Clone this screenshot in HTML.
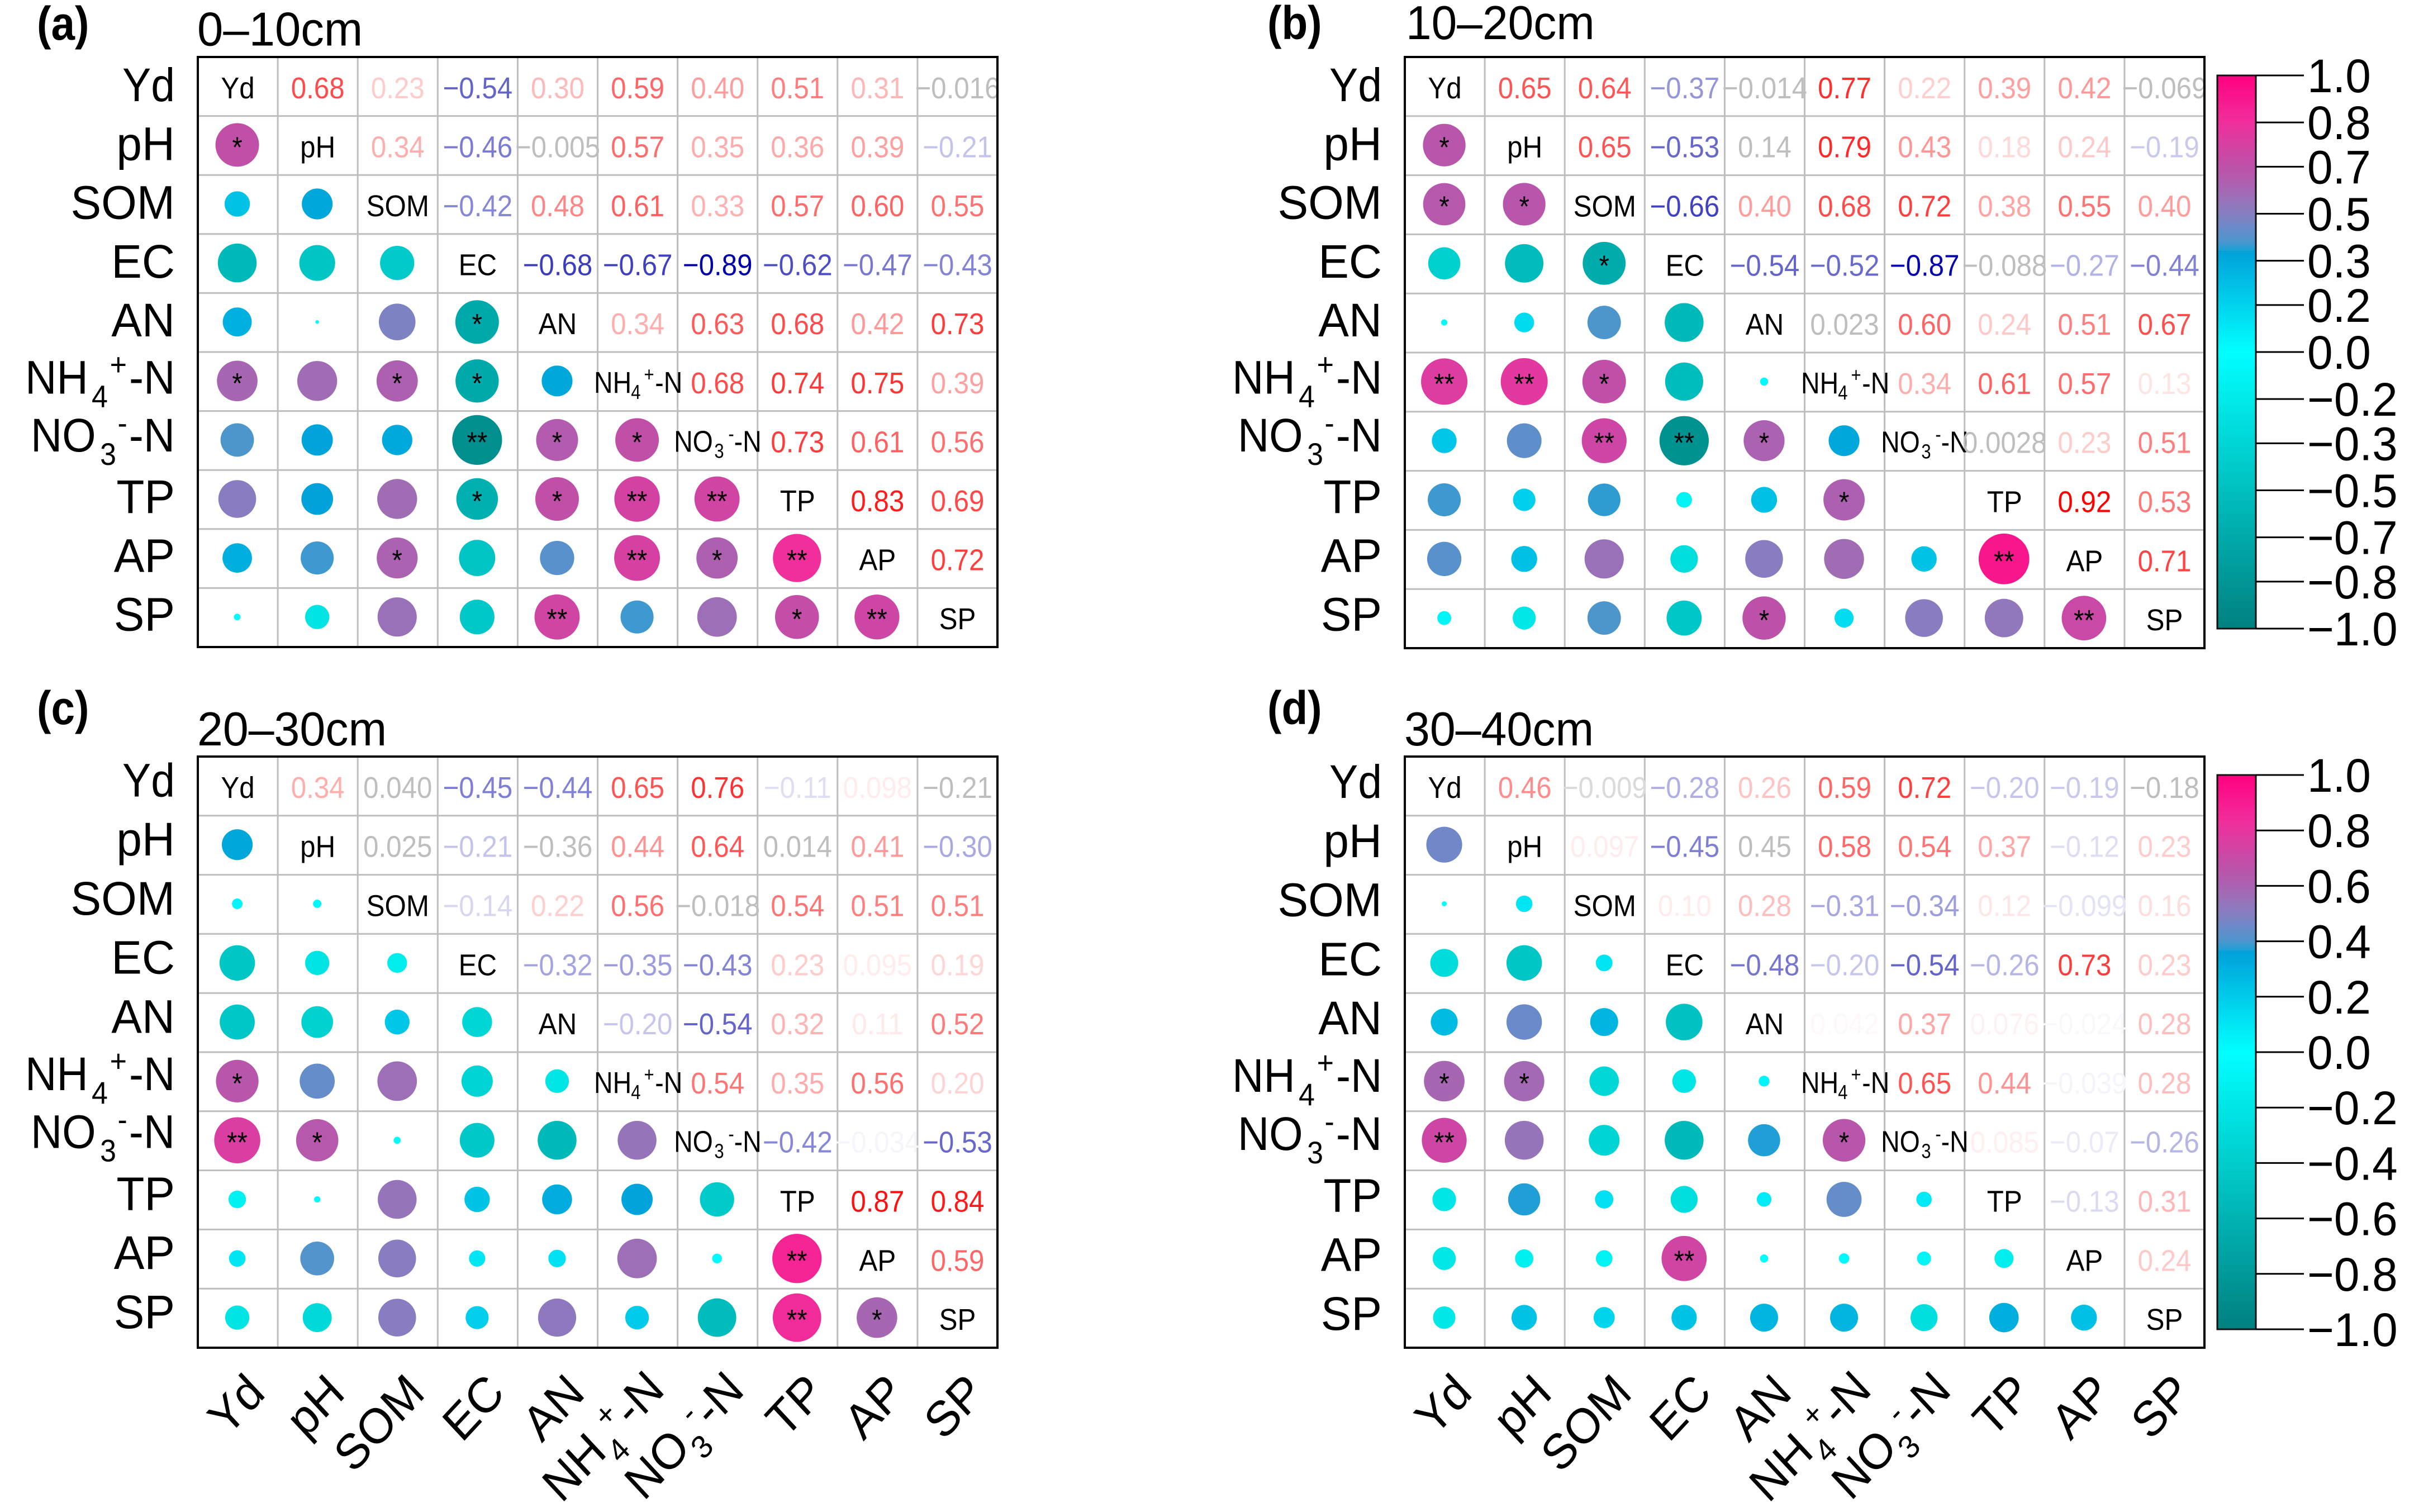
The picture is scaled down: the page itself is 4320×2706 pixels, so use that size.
<!DOCTYPE html>
<html lang="en">
<head>
<meta charset="utf-8">
<title>Correlation matrices by soil depth</title>
<style>
html,body{margin:0;padding:0;background:#fff;}
svg{display:block;font-family:"Liberation Sans",Arial,sans-serif;}
</style>
</head>
<body>
<svg id="chart" xmlns="http://www.w3.org/2000/svg" width="4320" height="2706" viewBox="0 0 4320 2706">
<defs>
<linearGradient id="cbar" x1="0" y1="1" x2="0" y2="0"></linearGradient>
</defs>
<rect x="0" y="0" width="4320" height="2706" fill="#ffffff"/>
</svg>
<script>
const categories = ['Yd','pH','SOM','EC','AN','NH4','NO3','TP','AP','SP'];

// Upper-triangle correlation coefficients, row by row
const valuesA = [
  [0.68,0.23,-0.54,0.30,0.59,0.40,0.51,0.31,-0.016],
  [0.34,-0.46,-0.005,0.57,0.35,0.36,0.39,-0.21],
  [-0.42,0.48,0.61,0.33,0.57,0.60,0.55],
  [-0.68,-0.67,-0.89,-0.62,-0.47,-0.43],
  [0.34,0.63,0.68,0.42,0.73],
  [0.68,0.74,0.75,0.39],
  [0.73,0.61,0.56],
  [0.83,0.69],
  [0.72]
];
const valuesB = [
  [0.65,0.64,-0.37,-0.014,0.77,0.22,0.39,0.42,-0.069],
  [0.65,-0.53,0.14,0.79,0.43,0.18,0.24,-0.19],
  [-0.66,0.40,0.68,0.72,0.38,0.55,0.40],
  [-0.54,-0.52,-0.87,-0.088,-0.27,-0.44],
  [0.023,0.60,0.24,0.51,0.67],
  [0.34,0.61,0.57,0.13],
  [0.0028,0.23,0.51],
  [0.92,0.53],
  [0.71]
];
const valuesC = [
  [0.34,0.040,-0.45,-0.44,0.65,0.76,-0.11,0.098,-0.21],
  [0.025,-0.21,-0.36,0.44,0.64,0.014,0.41,-0.30],
  [-0.14,0.22,0.56,-0.018,0.54,0.51,0.51],
  [-0.32,-0.35,-0.43,0.23,0.095,0.19],
  [-0.20,-0.54,0.32,0.11,0.52],
  [0.54,0.35,0.56,0.20],
  [-0.42,-0.034,-0.53],
  [0.87,0.84],
  [0.59]
];
const valuesD = [
  [0.46,-0.009,-0.28,0.26,0.59,0.72,-0.20,-0.19,-0.18],
  [0.097,-0.45,0.45,0.58,0.54,0.37,-0.12,0.23],
  [0.10,0.28,-0.31,-0.34,0.12,-0.099,0.16],
  [-0.48,-0.20,-0.54,-0.26,0.73,0.23],
  [0.042,0.37,0.076,-0.024,0.28],
  [0.65,0.44,-0.039,0.28],
  [0.085,-0.07,-0.26],
  [-0.13,0.31],
  [0.24]
];

// Lower-triangle significance marks, row by row (rows 1..9)
const starsA = [
  ['*'],
  ['',''],
  ['','',''],
  ['','','','*'],
  ['*','','*','*',''],
  ['','','','**','*','*'],
  ['','','','*','*','**','**'],
  ['','','*','','','**','*','**'],
  ['','','','','**','','','*','**']
];
const starsB = [
  ['*'],
  ['*','*'],
  ['','','*'],
  ['','','',''],
  ['**','**','*','',''],
  ['','','**','**','*',''],
  ['','','','','','*',''],
  ['','','','','','','','**'],
  ['','','','','*','','','','**']
];
const starsC = [
  [''],
  ['',''],
  ['','',''],
  ['','','',''],
  ['*','','','',''],
  ['**','*','','','',''],
  ['','','','','','',''],
  ['','','','','','','','**'],
  ['','','','','','','','**','*']
];
const starsD = [
  [''],
  ['',''],
  ['','',''],
  ['','','',''],
  ['*','*','','',''],
  ['**','','','','','*'],
  ['','','','','','',''],
  ['','','','**','','','',''],
  ['','','','','','','','','']
];

// Printed values shown in grey: [row, column]
const greyCellsA = [[0,9],[1,4]];
const greyCellsB = [[0,4],[0,9],[1,4],[3,7],[4,5],[6,7]];
const greyCellsC = [[0,2],[0,9],[1,2],[1,4],[1,7],[2,6]];
const greyCellsD = [[0,9],[1,4]];
const paleGreyCellsD = [[0,2]];

// Colour bar tick values
const colorbarTicksUpper = [1,0.83,0.67,0.5,0.33,0.17,0,-0.17,-0.33,-0.5,-0.67,-0.83,-1];
const colorbarTicksLower = [1,0.8,0.6,0.4,0.2,0,-0.2,-0.4,-0.6,-0.8,-1];

const svg = document.getElementById('chart');
const NS = 'http://www.w3.org/2000/svg';

function make(tag, name, attrs, parent) {
  const el = document.createElementNS(NS, tag);
  
  
  for (const k in attrs) el.setAttribute(k, attrs[k]);
  (parent || svg).appendChild(el);
  return el;
}
function txt(parent, name, x, y, str, size, sx, anchor, fill, weight) {
  const t = make('text', name, {
    transform: 'translate(' + x + ',' + y + ') scale(' + sx + ',1)',
    'font-size': size, 'text-anchor': anchor, fill: fill
  }, parent);
  if (weight) t.setAttribute('font-weight', weight);
  t.textContent = str;
  return t;
}
// NH4+-N / NO3--N label built from real text runs
function chem(parent, name, transform, kind, size, subSize, offs, subDy, supDy) {
  const t = make('text', name, {transform: transform, 'font-size': size, fill: '#000'}, parent);
  const parts = kind === 'NH4'
    ? [['NH',0,0,size],['4',offs[0],subDy,subSize],['+',offs[1],supDy,subSize],['-N',offs[2],0,size]]
    : [['NO',0,0,size],['3',offs[0],subDy,subSize],['-',offs[1],supDy,subSize],['-N',offs[2],0,size]];
  parts.forEach(function (p) {
    const s = document.createElementNS(NS, 'tspan');
    s.setAttribute('x', p[1]);
    s.setAttribute('y', p[2]);
    s.setAttribute('font-size', p[3]);
    s.textContent = p[0];
    t.appendChild(s);
  });
  return t;
}

const mapLow = [[-1,0,128,128],[0,0,255,255],[0.366,0,160,216]];
const mapHigh = [[0.366,25,160,215],[0.40,76,150,204],[0.46,112,136,200],[0.48,124,130,194],[0.51,138,124,192],[0.57,160,108,180],[0.61,174,96,176],[0.68,192,79,168],[0.83,240,47,156],[1,255,0,128]];
function colorAt(v) {
  const m = v <= 0.366 ? mapLow : mapHigh;
  v = Math.max(-1, Math.min(1, v));
  for (let i = 0; i < m.length - 1; i++) {
    if (v <= m[i + 1][0]) {
      const t = (v - m[i][0]) / (m[i + 1][0] - m[i][0]);
      const c = [1, 2, 3].map(function (k) { return Math.round(m[i][k] + (m[i + 1][k] - m[i][k]) * t); });
      return 'rgb(' + c.join(',') + ')';
    }
  }
  return 'rgb(255,0,128)';
}
function textColor(v) {
  const a = Math.abs(v);
  if (v >= 0) {
    const t = Math.min(1, a / 0.92);
    const c = Math.round(255 * (1 - Math.pow(t, 1.15)));
    return 'rgb(255,' + c + ',' + c + ')';
  }
  const t = Math.min(1, a / 0.89);
  const c = Math.round(255 * (1 - t));
  return 'rgb(' + c + ',' + c + ',' + Math.round(255 - 85 * t) + ')';
}
function formatValue(v) {
  const a = Math.abs(v);
  let s;
  if (a === 0.07) s = '0.07';
  else if (a >= 0.1) s = a.toFixed(2);
  else if (a >= 0.01) s = a.toPrecision(2);
  else s = String(a);
  return (v < 0 ? '\u2212' : '') + s;
}

// gradient of colour bar built from the map
(function () {
  const g = document.getElementById('cbar');
  const addStop = function (v, color) {
    const s = document.createElementNS(NS, 'stop');
    s.setAttribute('offset', ((v + 1) / 2 * 100).toFixed(2) + '%');
    s.setAttribute('stop-color', color);
    g.appendChild(s);
  };
  mapLow.concat(mapHigh).forEach(function (p) {
    addStop(p[0], 'rgb(' + p[1] + ',' + p[2] + ',' + p[3] + ')');
  });
})();

function drawPanel(cfg) {
  const g = make('g', 'panel-' + cfg.id, {});
  const cw = cfg.w / 10, ch = cfg.h / 10;
  const xAt = function (j) { return cfg.left + cw * (j + 0.5); };
  const yAt = function (i) { return cfg.top + ch * (i + 0.5); };

  txt(g, 'panel-letter-' + cfg.id, cfg.letterX, cfg.letterY, '(' + cfg.id + ')', 84, 0.91, 'start', '#000', 'bold');
  txt(g, 'panel-title-' + cfg.id, cfg.titleX, cfg.titleY, cfg.title, 85, cfg.titleSx, 'start', '#000');

  // grid
  for (let k = 1; k < 10; k++) {
    make('line', 'grid-vertical', {x1: cfg.left + cw * k, x2: cfg.left + cw * k, y1: cfg.top, y2: cfg.top + cfg.h, stroke: '#bebebe', 'stroke-width': 3}, g);
    make('line', 'grid-horizontal', {x1: cfg.left, x2: cfg.left + cfg.w, y1: cfg.top + ch * k, y2: cfg.top + ch * k, stroke: '#bebebe', 'stroke-width': 3}, g);
  }

  const greyKey = {};
  cfg.grey.forEach(function (p) { greyKey[p[0] + '-' + p[1]] = '#bebebe'; });
  (cfg.paleGrey || []).forEach(function (p) { greyKey[p[0] + '-' + p[1]] = '#dadada'; });

  for (let i = 0; i < 10; i++) {
    const name = categories[i];
    // row label
    const rowY = cfg.labelY + cfg.labelStep * i;
    if (name === 'NH4') {
      chem(g, 'row-label-nh4-n', 'translate(' + (cfg.left - 309) + ',' + (rowY - 3) + ') scale(0.93,1)', 'NH4', 84, 56, [128,163,200], 24, -33);
    } else if (name === 'NO3') {
      chem(g, 'row-label-no3-n', 'translate(' + (cfg.left - 299) + ',' + (rowY - 5) + ') scale(0.926,1)', 'NO3', 84, 56, [134,168,190], 24, -32);
    } else {
      txt(g, 'row-label-' + name.toLowerCase(), cfg.left - 41, rowY, name, 84, name === 'Yd' ? 0.915 : 0.975, 'end', '#000');
    }
    // column label (only the bottom panels carry one)
    if (cfg.columnLabels) {
      const colT = 'translate(' + (xAt(i) + 52) + ',' + (cfg.top + cfg.h + 85) + ') scale(0.93,1) rotate(-45)';
      if (name === 'NH4') {
        const colTn = 'translate(' + (xAt(i) - 136) + ',' + (cfg.top + cfg.h + 280) + ') scale(0.93,1) rotate(-45)';
        chem(g, 'column-label-nh4-n', colTn, 'NH4', 88, 58, [130,156,192], 29, -34);
      } else if (name === 'NO3') {
        const colTn = 'translate(' + (xAt(i) - 132) + ',' + (cfg.top + cfg.h + 276) + ') scale(0.93,1) rotate(-45)';
        chem(g, 'column-label-no3-n', colTn, 'NO3', 88, 58, [133,163,185], 29, -33);
      } else {
        make('text', 'column-label-' + name.toLowerCase(), {transform: colT, 'font-size': 88, 'text-anchor': 'end', fill: '#000'}, g).textContent = name;
      }
    }
    // diagonal label
    if (name === 'NH4') {
      chem(g, 'diagonal-label-nh4-n', 'translate(' + (xAt(i) - 78) + ',' + (yAt(i) + 20) + ') scale(0.86,1)', 'NH4', 54, 36, [77,104,127], 11, -21);
    } else if (name === 'NO3') {
      chem(g, 'diagonal-label-no3-n', 'translate(' + (xAt(i) - 78) + ',' + (yAt(i) + 20) + ') scale(0.86,1)', 'NO3', 54, 36, [84,113,125], 11, -20);
    } else {
      txt(g, 'diagonal-label-' + name.toLowerCase(), xAt(i), yAt(i) + 21, name, 54, 0.913, 'middle', '#000');
    }
    // upper triangle text + mirrored circle in the lower triangle
    const row = cfg.values[i] || [];
    row.forEach(function (v, k) {
      const j = i + 1 + k;
      const col = greyKey[i + '-' + j] || textColor(v);
      txt(g, 'value-' + categories[i].toLowerCase() + '-' + categories[j].toLowerCase(), xAt(j), yAt(i) + 21, formatValue(v), 54, 0.913, 'middle', col);
      const r = 47.3 * Math.sqrt(Math.abs(v));
      if (Math.abs(v) >= 0.004) {
        make('circle', 'dot-' + categories[j].toLowerCase() + '-' + categories[i].toLowerCase(), {cx: xAt(i) - 1, cy: yAt(j) - 1, r: r.toFixed(2), fill: colorAt(v)}, g);
      }
      const mark = cfg.stars[j - 1][i];
      if (mark) {
        txt(g, 'significance-' + categories[j].toLowerCase() + '-' + categories[i].toLowerCase(), xAt(i) - 1, yAt(j) + 21, mark, 52, 0.91, 'middle', '#000');
      }
    });
  }
  make('rect', 'panel-border-' + cfg.id, {x: cfg.left, y: cfg.top, width: cfg.w, height: cfg.h, fill: 'none', stroke: '#000', 'stroke-width': 4}, g);
}

function drawColorbar(id, top, bottom, ticks, maxVal) {
  const g = make('g', 'colorbar-' + id, {});
  const yAt = function (v) { return top + (maxVal - v) / (2 * maxVal) * (bottom - top); };
  make('rect', 'colorbar-ramp', {x: 3968, y: top, width: 69, height: bottom - top, fill: 'url(#cbar)', stroke: '#111', 'stroke-width': 3}, g);
  ticks.forEach(function (v) {
    const y = yAt(v);
    make('line', 'colorbar-tick', {x1: 4037, x2: 4123, y1: y, y2: y, stroke: '#000', 'stroke-width': 3}, g);
    const label = (v < 0 ? '\u2212' : '') + Math.abs(v).toFixed(1);
    txt(g, 'colorbar-label', 4129, y + 30, label, 84, 0.975, 'start', '#000');
  });
}

drawPanel({id: 'a', title: '0\u201310cm', left: 354, top: 102, w: 1431, h: 1056, labelY: 181, labelStep: 105.3, letterX: 66, letterY: 71, titleX: 353, titleY: 81.5, titleSx: 0.98, values: valuesA, stars: starsA, grey: greyCellsA, columnLabels: false});
drawPanel({id: 'b', title: '10\u201320cm', left: 2514, top: 102, w: 1431, h: 1058, labelY: 181, labelStep: 105.3, letterX: 2268, letterY: 70, titleX: 2516, titleY: 70, titleSx: 0.966, values: valuesB, stars: starsB, grey: greyCellsB, columnLabels: false});
drawPanel({id: 'c', title: '20\u201330cm', left: 354, top: 1354, w: 1431, h: 1058, labelY: 1425.5, labelStep: 105.7, letterX: 66, letterY: 1296, titleX: 353, titleY: 1334, titleSx: 0.97, values: valuesC, stars: starsC, grey: greyCellsC, columnLabels: true});
drawPanel({id: 'd', title: '30\u201340cm', left: 2514, top: 1354, w: 1431, h: 1058, labelY: 1428, labelStep: 105.8, letterX: 2268, letterY: 1296, titleX: 2513, titleY: 1334, titleSx: 0.97, values: valuesD, stars: starsD, grey: greyCellsD, paleGrey: paleGreyCellsD, columnLabels: true});
drawColorbar('upper', 135, 1125, colorbarTicksUpper, 1);
drawColorbar('lower', 1387, 2379, colorbarTicksLower, 1);
</script>
</body>
</html>
